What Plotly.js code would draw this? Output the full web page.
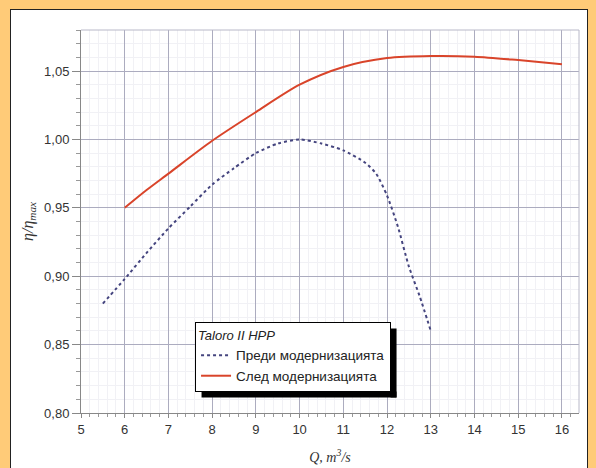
<!DOCTYPE html>
<html>
<head>
<meta charset="utf-8">
<script src="https://cdn.plot.ly/plotly-3.0.1.min.js"></script>
<style>
html,body{margin:0;padding:0;background:#FFCB78;width:596px;height:468px;overflow:hidden;}
#panel{position:absolute;left:10px;top:9px;width:576px;height:470px;background:#fff;border:1.5px solid #222;}
#chart{position:absolute;left:0;top:0;width:596px;height:468px;}
</style>
</head>
<body>
<div id="panel"></div>
<div id="chart"></div>
<script>
// Before modernisation (dotted blue)
const qBefore = [5.5, 6, 6.5, 7, 7.5, 8, 8.5, 9, 9.5, 10, 10.5, 11, 11.5, 11.75, 12, 12.25, 12.5, 12.75, 13];
const effBefore = [0.880, 0.898, 0.917, 0.935, 0.951, 0.967, 0.979, 0.990, 0.997, 1.000, 0.997, 0.992, 0.983, 0.975, 0.959, 0.936, 0.907, 0.885, 0.860];
// After modernisation (red)
const qAfter = [6, 6.5, 7, 8, 9, 10, 11, 12, 13, 14, 15, 16];
const effAfter = [0.950, 0.963, 0.975, 0.999, 1.020, 1.040, 1.053, 1.0595, 1.061, 1.0605, 1.058, 1.055];
const xTicks = [5, 6, 7, 8, 9, 10, 11, 12, 13, 14, 15, 16];
const yTicks = [0.80, 0.85, 0.90, 0.95, 1.00, 1.05];
const nameBefore = 'Преди модернизацията';
const nameAfter = 'След модернизацията';
const legendTitle = 'Taloro II HPP';

const traces = [
  {x: qBefore, y: effBefore, type: 'scatter', mode: 'lines', name: nameBefore,
   line: {color: '#45457f', width: 2, dash: 'dot', shape: 'spline', smoothing: 0.6}},
  {x: qAfter, y: effAfter, type: 'scatter', mode: 'lines', name: nameAfter,
   line: {color: '#d9442a', width: 2, shape: 'spline', smoothing: 0.8}}
];

const gridMajor = '#acacbf';
const gridMinor = '#f1f1f5';
const M = {l: 81, r: 17, t: 30, b: 55};
const W = 596, H = 468;
const frameShapes = [
  {type: 'line', xref: 'paper', yref: 'paper', x0: 0, x1: 1, y0: 1, y1: 1, line: {color: '#b8b8c8', width: 1}},
  {type: 'line', xref: 'paper', yref: 'paper', x0: 1, x1: 1, y0: 0, y1: 1, line: {color: '#b8b8c8', width: 1}}
];
const layout = {
  width: W, height: H,
  margin: M,
  paper_bgcolor: 'rgba(0,0,0,0)',
  plot_bgcolor: '#ffffff',
  separators: ',.',
  font: {family: 'Liberation Sans, Arial, sans-serif', size: 13, color: '#333'},
  showlegend: true,
  xaxis: {
    range: [5, 16.39], tickvals: xTicks, ticktext: xTicks.map(String),
    showgrid: true, gridcolor: gridMajor, gridwidth: 1,
    showline: true, linecolor: '#888', linewidth: 1,
    ticks: 'outside', ticklen: 4, tickcolor: '#888',
    minor: {dtick: 0.2, showgrid: true, gridcolor: gridMinor, ticks: 'outside', ticklen: 3, tickcolor: '#999'},
    zeroline: false,
    tickfont: {size: 13, color: '#333'},
    title: {text: '<i>Q, m<sup>3</sup>/s</i>', font: {family: 'Liberation Serif, Times New Roman, serif', size: 14, color: '#333'}, standoff: 16}
  },
  yaxis: {
    range: [0.80, 1.08], tickvals: yTicks, tickformat: '.2f',
    showgrid: true, gridcolor: gridMajor, gridwidth: 1,
    showline: true, linecolor: '#888', linewidth: 1,
    ticks: 'outside', ticklen: 8, tickcolor: '#888',
    minor: {dtick: 0.01, showgrid: true, gridcolor: gridMinor, ticks: 'outside', ticklen: 4, tickcolor: '#999'},
    zeroline: false,
    tickfont: {size: 13, color: '#333'},
    title: {text: '<i>η/η<sub>max</sub></i>', font: {family: 'Liberation Serif, Times New Roman, serif', size: 16, color: '#333'}, standoff: 6}
  },
  legend: {
    x: 0.229, y: 0.2376, xanchor: 'left', yanchor: 'top',
    bgcolor: '#ffffff', bordercolor: '#000', borderwidth: 1,
    font: {size: 13.5, color: '#222'},
    title: {text: '<i>' + legendTitle + '</i>', side: 'top', font: {size: 13, color: '#222'}},
    tracegroupgap: 0
  },
  shapes: frameShapes
};
Plotly.newPlot('chart', traces, layout, {displayModeBar: false, staticPlot: true}).then(function (gd) {
  // legend drop shadow: strips to the right and below the legend box
  const bg = gd.querySelector('.legend .bg');
  if (!bg) return;
  const r = bg.getBoundingClientRect();
  const pw = W - M.l - M.r, ph = H - M.t - M.b;
  const px = v => (v - M.l) / pw;
  const py = v => (H - M.b - v) / ph;
  const off = 6;
  const shadow = [
    {type: 'rect', xref: 'paper', yref: 'paper', x0: px(r.right), x1: px(r.right + off), y0: py(r.bottom + off), y1: py(r.top + off),
     fillcolor: '#000', line: {width: 0}, layer: 'above'},
    {type: 'rect', xref: 'paper', yref: 'paper', x0: px(r.left + off), x1: px(r.right + off), y0: py(r.bottom + off), y1: py(r.bottom),
     fillcolor: '#000', line: {width: 0}, layer: 'above'}
  ];
  return Plotly.relayout(gd, {shapes: frameShapes.concat(shadow)});
});
</script>
</body>
</html>
